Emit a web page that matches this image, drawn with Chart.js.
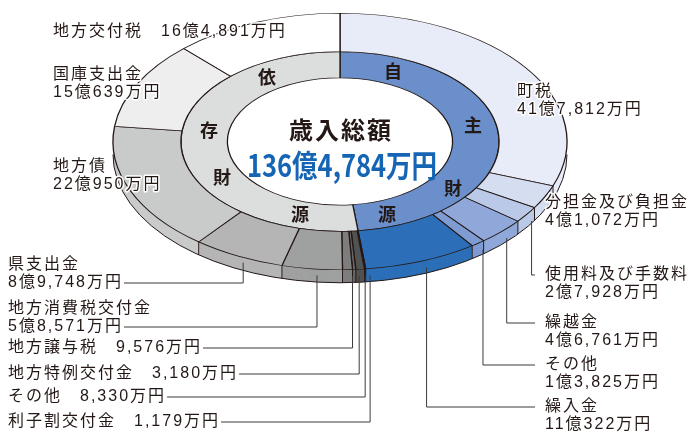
<!DOCTYPE html>
<html>
<head>
<meta charset="utf-8">
<script src="https://cdn.jsdelivr.net/npm/chart.js@4"></script>
<style>
  html, body { margin: 0; padding: 0; background: #fff; }
</style>
</head>
<body>
<canvas id="myChart" width="690" height="436"></canvas>
<script>
// 歳入の内訳（単位：万円）
var categories = ['町税', '分担金及び負担金', '使用料及び手数料', '繰越金', 'その他', '繰入金',
  '利子割交付金', 'その他', '地方特例交付金', '地方譲与税', '地方消費税交付金', '県支出金',
  '地方債', '国庫支出金', '地方交付税'];
var values = [417812, 41072, 27928, 46761, 13825, 110322,
  1179, 8330, 3180, 9576, 58571, 89748, 220950, 150639, 164891];
var valueLabels = ['41億7,812万円', '4億1,072万円', '2億7,928万円', '4億6,761万円', '1億3,825万円', '11億322万円',
  '1,179万円', '8,330万円', '3,180万円', '9,576万円', '5億8,571万円', '8億9,748万円',
  '22億950万円', '15億639万円', '16億4,891万円'];
var groups = ['自主財源', '依存財源'];
var groupValues = [657720, 707064];
var totalTitle = '歳入総額';
var totalLabel = '136億4,784万円';

var colors = ['#e8ecf8', '#d4def0', '#b9c9e7', '#8fa8d9', '#7e9bd2', '#2c6fb8',
  '#3e3a39', '#525252', '#666666', '#7d7d7d', '#9fa0a0', '#b5b5b6', '#c9caca', '#eeeeee', '#ffffff'];
var groupColors = ['#6b8fcb', '#dcdddd'];
var ink = '#231815';

// 立体表示用
var K = 0.565, CY = 141.5, DEPTH = 13;

// ラベル配置 (i = categories の番号)
var labelLayout = [
  {i: 0, x: 517, y: 92, two: true},
  {i: 1, x: 545, y: 203, two: true},
  {i: 2, x: 545, y: 275, two: true, lead: 'right'},
  {i: 3, x: 545, y: 323, two: true, lead: 'right'},
  {i: 4, x: 545, y: 365, two: true, lead: 'right'},
  {i: 5, x: 545, y: 407, two: true, lead: 'right'},
  {i: 6, x: 8, y: 422, lead: 'left'},
  {i: 7, x: 8, y: 397, lead: 'left'},
  {i: 8, x: 8, y: 374, lead: 'left'},
  {i: 9, x: 8, y: 348, lead: 'left'},
  {i: 10, x: 8, y: 309, two: true, lead: 'left'},
  {i: 11, x: 8, y: 265, two: true, lead: 'left'},
  {i: 12, x: 53, y: 167, two: true},
  {i: 13, x: 53, y: 75, two: true},
  {i: 14, x: 53, y: 32}
];
var groupChars = [
  {t: '自', x: 393, y: 71}, {t: '主', x: 473, y: 125}, {t: '財', x: 453, y: 188}, {t: '源', x: 387, y: 214},
  {t: '依', x: 267, y: 77}, {t: '存', x: 209, y: 130}, {t: '財', x: 222, y: 177}, {t: '源', x: 300, y: 214}
];

function screenPt(el, ang, r) {
  return {x: el.x + r * Math.cos(ang), y: CY + K * r * Math.sin(ang)};
}
function tilt(ctx, el, dy) {
  ctx.translate(0, CY + dy);
  ctx.scale(1, K);
  ctx.translate(0, -el.y);
}

var tiltPlugin = {
  id: 'tilt',
  beforeDatasetsDraw: function(chart) {
    var ctx = chart.ctx;
    var meta = chart.getDatasetMeta(0);
    var el = meta.data[0];
    // 側面
    for (var d = DEPTH; d >= 1; d--) {
      ctx.save();
      tilt(ctx, el, d);
      meta.data.forEach(function(a, i) {
        ctx.beginPath();
        ctx.arc(a.x, a.y, a.outerRadius, a.startAngle, a.endAngle);
        ctx.arc(a.x, a.y, a.innerRadius, a.endAngle, a.startAngle, true);
        ctx.closePath();
        ctx.fillStyle = colors[i];
        ctx.fill();
      });
      ctx.restore();
    }
    ctx.save();
    tilt(ctx, el, DEPTH);
    ctx.beginPath();
    ctx.arc(el.x, el.y, el.outerRadius, 0, Math.PI);
    ctx.restore();
    ctx.strokeStyle = ink;
    ctx.lineWidth = 1;
    ctx.stroke();
    ctx.beginPath();
    meta.data.forEach(function(a) {
      if (Math.sin(a.endAngle) > 0.02) {
        var p = screenPt(el, a.endAngle, a.outerRadius);
        ctx.moveTo(p.x, p.y);
        ctx.lineTo(p.x, p.y + DEPTH);
      }
    });
    ctx.stroke();
    // 上面
    ctx.save();
    tilt(ctx, el, 0);
  },
  afterDatasetsDraw: function(chart) {
    chart.ctx.restore();
  },
  afterDraw: function(chart) {
    var ctx = chart.ctx;
    var meta = chart.getDatasetMeta(0);
    var el = meta.data[0];
    ctx.save();
    ctx.textBaseline = 'middle';
    ctx.lineJoin = 'round';

    // 中央
    ctx.textAlign = 'center';
    ctx.fillStyle = ink;
    ctx.font = 'bold 24px "Noto Sans CJK JP"';
    ctx.letterSpacing = '2px';
    ctx.fillText(totalTitle, 341, 130);
    ctx.letterSpacing = '0px';
    ctx.fillStyle = '#1565b4';
    ctx.font = 'bold 31px "Liberation Sans Narrow", "Noto Sans CJK JP"';
    ctx.fillText(totalLabel, 342, 165, 190);

    // 自主財源・依存財源
    ctx.fillStyle = ink;
    ctx.font = 'bold 18px "Noto Sans CJK JP"';
    groupChars.forEach(function(g) { ctx.fillText(g.t, g.x, g.y); });

    // 各項目
    ctx.textAlign = 'left';
    ctx.font = '16px "Liberation Sans", "Noto Sans CJK JP"';
    ctx.letterSpacing = '2px';
    ctx.strokeStyle = '#ffffff';
    ctx.lineWidth = 3;
    labelLayout.forEach(function(L) {
      var name = categories[L.i], val = valueLabels[L.i];
      var endX, lineY;
      ctx.fillStyle = ink;
      if (L.two) {
        ctx.strokeText(name, L.x, L.y);
        ctx.fillText(name, L.x, L.y);
        ctx.strokeText(val, L.x, L.y + 18);
        ctx.fillText(val, L.x, L.y + 18);
        endX = L.x + ctx.measureText(val).width;
        lineY = L.lead === 'right' ? L.y : L.y + 18;
      } else {
        var s = name + '　' + val;
        ctx.strokeText(s, L.x, L.y);
        ctx.fillText(s, L.x, L.y);
        endX = L.x + ctx.measureText(s).width;
        lineY = L.y;
      }
      if (L.lead) {
        var a = meta.data[L.i];
        var p = screenPt(el, (a.startAngle + a.endAngle) / 2, a.outerRadius);
        var px = p.x + 5;
        var py = p.y + DEPTH * 0.5;
        ctx.save();
        ctx.strokeStyle = '#3e3a39';
        ctx.lineWidth = 1;
        ctx.beginPath();
        if (L.lead === 'right') {
          ctx.moveTo(px, py);
          ctx.lineTo(px, lineY);
          ctx.lineTo(L.x - 10, lineY);
        } else {
          ctx.moveTo(endX + 1, lineY);
          ctx.lineTo(px, lineY);
          ctx.lineTo(px, py);
        }
        ctx.stroke();
        ctx.restore();
      }
    });
    ctx.restore();
  }
};

var config = {
  type: 'doughnut',
  data: {
    labels: categories,
    datasets: [
      {
        label: '内訳',
        data: values,
        backgroundColor: colors,
        borderColor: ink,
        borderWidth: 1.3,
        weight: 68,
        clip: false
      },
      {
        label: '財源',
        data: groupValues,
        backgroundColor: groupColors,
        borderColor: ink,
        borderWidth: 1.3,
        weight: 46.5,
        clip: false
      }
    ]
  },
  options: {
    responsive: false,
    animation: false,
    events: [],
    radius: 227,
    cutout: '49.6%',
    layout: { padding: { right: 10 } },
    plugins: {
      legend: { display: false },
      tooltip: { enabled: false }
    }
  },
  plugins: [tiltPlugin]
};

var chartInstance = new Chart(document.getElementById('myChart'), config);
</script>
</body>
</html>
